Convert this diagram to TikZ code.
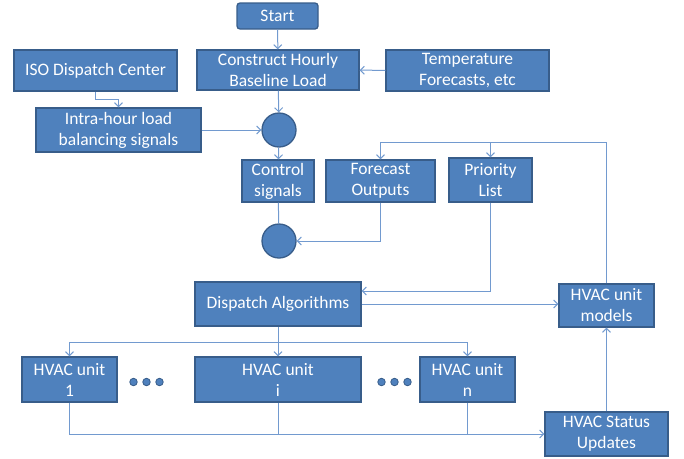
\documentclass[tikz,border=0pt]{standalone}
\usepackage{fontspec}
\setmainfont{Carlito}
\usetikzlibrary{arrows.meta}
\definecolor{boxfill}{HTML}{4F81BD}
\definecolor{boxline}{HTML}{385D8A}
\definecolor{conn}{HTML}{729ACF}
\tikzset{
  box/.style={draw=boxline, line width=1.3pt, fill=boxfill, text=white, align=center,
    inner sep=0pt, font=\fontsize{17.5}{21}\selectfont},
  junction/.style={circle, draw=boxline, line width=1.3pt, fill=boxfill, minimum size=34pt, inner sep=0pt},
  dotc/.style={circle, draw=boxline, line width=0.8pt, fill=boxfill, minimum size=7.5pt, inner sep=0pt},
  conline/.style={draw=conn, line width=1pt},
  arr/.style={conline, -{Straight Barb[length=4pt,width=8pt]}},
}
\begin{document}
\begin{tikzpicture}[x=1pt,y=-1pt]
\useasboundingbox (0,0) rectangle (684,458);
% nodes
\node[box, rounded corners=3pt, minimum width=81pt, minimum height=26pt] (start) at (277.5,16) {Start};
\node[box, minimum width=162pt, minimum height=40pt] (construct) at (278,70) {Construct Hourly\\Baseline Load};
\node[box, minimum width=163pt, minimum height=41pt] (temp) at (467.5,70.5) {Temperature\\Forecasts, etc};
\node[box, minimum width=163pt, minimum height=41pt] (iso) at (95.5,70.5) {ISO Dispatch Center};
\node[box, minimum width=165pt, minimum height=44pt] (intra) at (118.5,130) {Intra-hour load\\balancing signals};
\node[junction] (c1) at (279,130) {};
\node[box, minimum width=72pt, minimum height=42pt] (control) at (278,181) {Control\\signals};
\node[box, minimum width=109pt, minimum height=42pt] (forecast) at (380.5,181) {Forecast\\Outputs};
\node[box, minimum width=83pt, minimum height=44pt] (priority) at (490.5,180) {Priority\\List};
\node[junction] (c2) at (279,241) {};
\node[box, minimum width=166pt, minimum height=44pt] (dispatch) at (278,304) {Dispatch Algorithms};
\node[box, minimum width=95pt, minimum height=43pt] (models) at (606.5,305.5) {HVAC unit\\models};
\node[box, minimum width=95pt, minimum height=45pt] (unit1) at (69.5,379.5) {HVAC unit\\1};
\node[box, minimum width=166pt, minimum height=45pt] (uniti) at (278,379.5) {HVAC unit\\i};
\node[box, minimum width=95pt, minimum height=45pt] (unitn) at (467.5,379.5) {HVAC unit\\n};
\node[box, minimum width=123pt, minimum height=44pt] (status) at (606.5,434) {HVAC Status\\Updates};
\node[dotc] (d1) at (133.5,382) {};
\node[dotc] (d2) at (146.5,382) {};
\node[dotc] (d3) at (159.5,382) {};
\node[dotc] (d4) at (381.5,382) {};
\node[dotc] (d5) at (394.5,382) {};
\node[dotc] (d6) at (407.5,382) {};
% helper coordinates
\coordinate (tr) at (606.5,142);
\coordinate (bus) at (0,342);
% connectors
\draw[arr] (start) -- (construct);
\draw[arr] (temp) -- (construct);
\draw[arr] (iso.south) -- ++(0,8) -| (intra.north);
\draw[arr] (intra) -- (c1);
\draw[arr] (construct) -- (c1);
\draw[arr] (c1) -- (control);
\draw[conline] (control) -- (c2);
\draw[arr] (forecast.south) |- (c2.east);
\draw[arr] (priority.south) |- ([yshift=13pt]dispatch.east);
\draw[arr] (dispatch.east) -- (dispatch.east -| models.west);
\draw[arr] (models.north) -- (tr) -| (forecast.north);
\draw[arr] (priority.north |- tr) -- (priority.north);
\draw[conline] (dispatch.south) -- (dispatch.south |- bus);
\draw[conline] (unit1.north |- bus) -- (unitn.north |- bus);
\draw[arr] (unit1.north |- bus) -- (unit1.north);
\draw[arr] (uniti.north |- bus) -- (uniti.north);
\draw[arr] (unitn.north |- bus) -- (unitn.north);
\draw[arr] (unit1.south) |- (status.west);
\draw[conline] (uniti.south) -- (uniti.south |- status.west);
\draw[conline] (unitn.south) -- (unitn.south |- status.west);
\draw[arr] (status) -- (models);
\end{tikzpicture}
\end{document}
